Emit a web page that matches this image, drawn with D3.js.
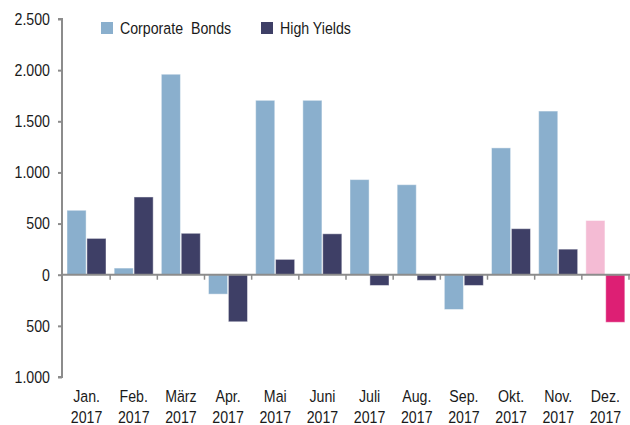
<!DOCTYPE html>
<html>
<head>
<meta charset="utf-8">
<script src="https://cdn.jsdelivr.net/npm/d3@7/dist/d3.min.js"></script>
<style>
  html, body { margin: 0; padding: 0; background: #fff; }
  svg { display: block; }
  text { font-family: "Liberation Sans", Arial, sans-serif; fill: #1a1a1a; }
</style>
</head>
<body>
<svg id="chart" width="630" height="425"></svg>
<script>
// Monthly net flows, 2017
const months = ["Jan.", "Feb.", "März", "Apr.", "Mai", "Juni", "Juli", "Aug.", "Sep.", "Okt.", "Nov.", "Dez."];
const year = "2017";
const seriesNames = ["Corporate  Bonds", "High Yields"];
const corporateBonds = [630, 65, 1960, -190, 1705, 1705, 930, 880, -340, 1240, 1600, 530];
const highYields = [355, 760, 405, -460, 150, 400, -105, -55, -105, 450, 250, -465];
const yTicks = [2500, 2000, 1500, 1000, 500, 0, -500, -1000];
const yTickLabels = ["2.500", "2.000", "1.500", "1.000", "500", "0", "500", "1.000"];

const baseColors = ["#8aafcd", "#3e3f66"];
const latestColors = ["#f4bbd4", "#dd1f74"];
const latestMonth = "Dez.";

// condensed look for all labels
const squeeze = 0.86;
const fontSize = 16.5;

const svg = d3.select("#chart");

const x = d3.scaleBand().domain(months).range([63, 629]).paddingInner(0);
const xInner = d3.scaleBand().domain([0, 1]).range([4, 43]).paddingInner(0.04);
const y = d3.scaleLinear().domain([-1000, 2500]).range([377, 19]);

const rows = months.map((m, i) => ({ month: m, values: [corporateBonds[i], highYields[i]] }));

// bars
const groups = svg.append("g").selectAll("g")
  .data(rows).join("g")
  .attr("transform", d => `translate(${x(d.month)},0)`);

groups.selectAll("rect")
  .data(d => d.values.map((v, k) => ({ v, k, month: d.month })))
  .join("rect")
  .attr("x", d => xInner(d.k))
  .attr("width", xInner.bandwidth())
  .attr("y", d => y(Math.max(0, d.v)))
  .attr("height", d => Math.abs(y(d.v) - y(0)))
  .attr("fill", d => (d.month === latestMonth ? latestColors : baseColors)[d.k])
  .attr("stroke", "rgba(255,255,255,0.45)")
  .attr("stroke-width", 1);

// y axis
const yAxis = d3.axisLeft(y)
  .tickValues(yTicks)
  .tickFormat((d, i) => yTickLabels[i])
  .tickSize(4)
  .tickPadding(8);

const gy = svg.append("g").attr("transform", "translate(62,0)").call(yAxis);
gy.select(".domain").attr("stroke", "#8c8c8c").attr("stroke-width", 2).attr("d", `M-4,${y(2500)}H0V${y(-1000)}H-4`);
gy.selectAll(".tick line").attr("stroke", "#8c8c8c").attr("stroke-width", 2);
gy.selectAll(".tick text")
  .attr("font-size", fontSize)
  .attr("x", -12 / squeeze)
  .attr("transform", `scale(${squeeze},1)`)
  .style("fill", "#1a1a1a");

// zero line with category separators
const gx = svg.append("g");
gx.append("line")
  .attr("x1", 62).attr("x2", 630)
  .attr("y1", y(0)).attr("y2", y(0))
  .attr("stroke", "#8c8c8c").attr("stroke-width", 2);
gx.selectAll("line.sep")
  .data(months.slice(1).concat(["end"]))
  .join("line")
  .attr("class", "sep")
  .attr("x1", (d, i) => x(months[0]) + x.bandwidth() * (i + 1))
  .attr("x2", (d, i) => x(months[0]) + x.bandwidth() * (i + 1))
  .attr("y1", y(0)).attr("y2", y(0) + 5)
  .attr("stroke", "#8c8c8c").attr("stroke-width", 1.5);

// category labels
const labels = svg.append("g").selectAll("text")
  .data(months).join("text")
  .attr("transform", d => `translate(${x(d) + x.bandwidth() / 2},402) scale(${squeeze},1)`)
  .attr("text-anchor", "middle")
  .attr("font-size", fontSize);
labels.append("tspan").attr("x", 0).text(d => d);
labels.append("tspan").attr("x", 0).attr("dy", 21).text(year);

// legend
const legendX = [101, 261];
const legend = svg.append("g").selectAll("g")
  .data(seriesNames).join("g")
  .attr("transform", (d, i) => `translate(${legendX[i]},22)`);
legend.append("rect").attr("width", 12).attr("height", 12).attr("fill", (d, i) => baseColors[i]);
legend.append("text")
  .attr("transform", `translate(19,11.5) scale(${squeeze},1)`)
  .attr("font-size", fontSize)
  .attr("xml:space", "preserve")
  .style("white-space", "pre")
  .text(d => d);
</script>
</body>
</html>
